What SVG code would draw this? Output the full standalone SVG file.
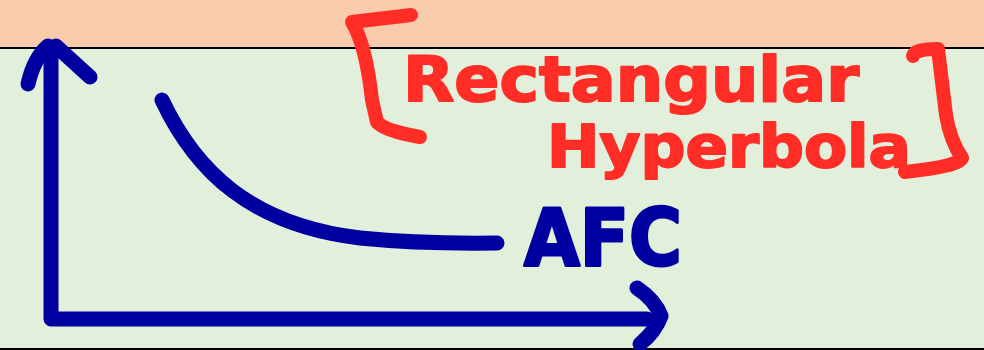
<svg xmlns="http://www.w3.org/2000/svg" width="984" height="350" viewBox="0 0 984 350">
<style>
.blue{fill:none;stroke:#0000a0;stroke-width:15;stroke-linecap:round;stroke-linejoin:round}
.red{fill:none;stroke:#ff2d26;stroke-width:14;stroke-linecap:round;stroke-linejoin:round}
.rt{font-family:"DejaVu Sans","Liberation Sans",sans-serif;font-weight:bold;fill:#ff2d26;stroke:#ff2d26;stroke-width:2;stroke-linejoin:round}
.bt{font-family:"DejaVu Sans","Liberation Sans",sans-serif;font-weight:bold;fill:#0000a0;stroke:#0000a0;stroke-width:3;stroke-linejoin:round}
</style>
<g id="background">
<rect x="0" y="0" width="984" height="48" fill="#f8cbad"/>
<rect x="0" y="48" width="984" height="302" fill="#e2efda"/>
<line x1="0" y1="48" x2="984" y2="48" stroke="#000" stroke-width="2"/>
<line x1="0" y1="349" x2="984" y2="349" stroke="#000" stroke-width="2"/>
</g>
<g id="axes">
<path class="blue" d="M51,50 L51,319 L647,319"/>
<path class="blue" d="M28,84 Q34,58 48,46 M56,46 L90,77"/>
<path class="blue" d="M637,288 Q655,300 661,316 Q655,332 640,344"/>
</g>
<g id="curve">
<path class="blue" d="M162,100 C195,170 250,225 360,238 Q420,244 497,243"/>
</g>
<g id="label-afc">
<text class="bt" x="524" y="265" font-size="78" textLength="158" lengthAdjust="spacingAndGlyphs">AFC</text>
</g>
<g id="label-rectangular-hyperbola">
<path class="red" d="M411,15 L352,22 Q366,45 372,100 L377,122 Q385,131 420,137"/>
<text class="rt" x="403" y="101" font-size="62" textLength="456" lengthAdjust="spacingAndGlyphs">Rectangular</text>
<text class="rt" x="547" y="167" font-size="58" textLength="364" lengthAdjust="spacingAndGlyphs">Hyperbola</text>
<path class="red" d="M913,56 Q914,49 938,49 L946,115 Q950,140 962,158 Q960,166 905,172"/>
</g>
</svg>
